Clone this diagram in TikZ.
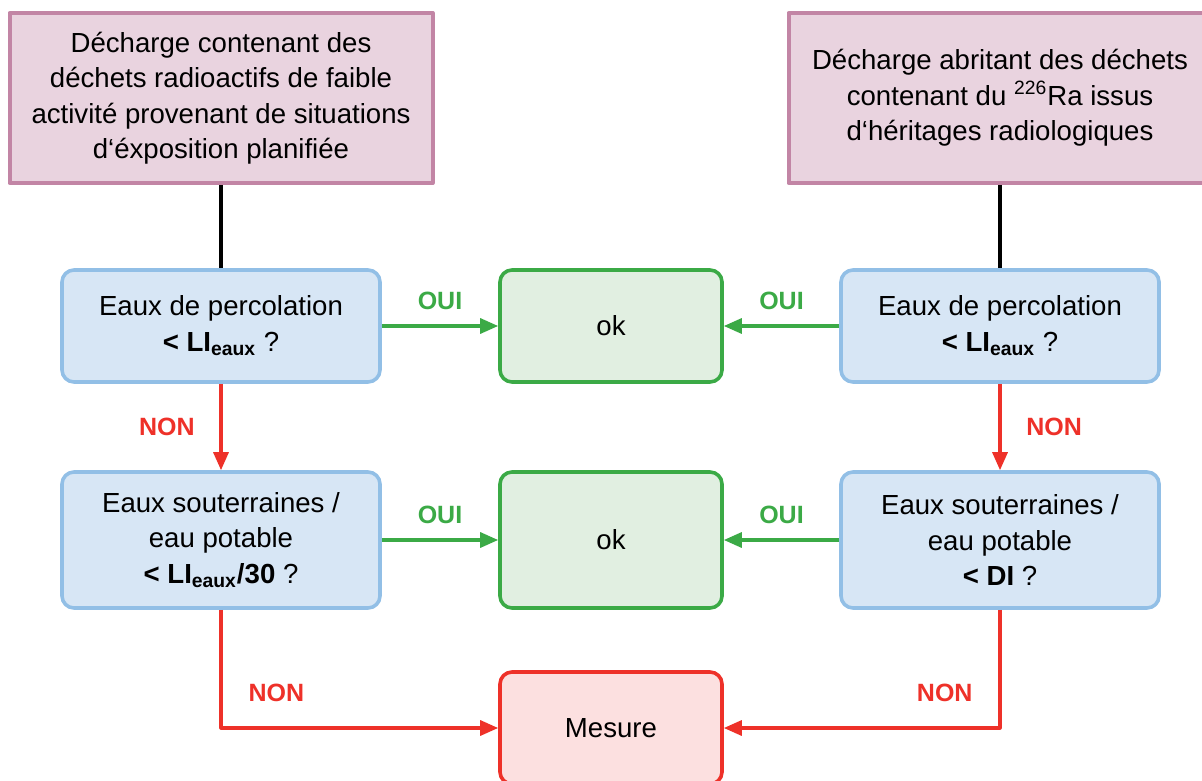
\documentclass[tikz,border=0pt]{standalone}
\usepackage{fontspec}
\setmainfont{Liberation Sans}
\usetikzlibrary{arrows.meta}
\definecolor{srcfill}{HTML}{E9D3DF}
\definecolor{srcline}{HTML}{C285A5}
\definecolor{qfill}{HTML}{D7E6F5}
\definecolor{qline}{HTML}{92BFE6}
\definecolor{okfill}{HTML}{E1EFE1}
\definecolor{okline}{HTML}{3BAA46}
\definecolor{mesfill}{HTML}{FCE0E0}
\definecolor{noline}{HTML}{EE3129}
\begin{document}
\begin{tikzpicture}[x=0.5pt,y=-0.5pt,line join=round,>={Triangle[length=9pt,width=7.5pt]},
	every node/.style={font=\fontsize{13.8}{17.75}\selectfont},
	source/.style={draw=srcline,fill=srcfill,line width=2pt,align=center,minimum width=211.5pt,minimum height=85pt,inner sep=0pt},
	question/.style={draw=qline,fill=qfill,line width=1.8pt,rounded corners=6pt,align=center,minimum width=159pt,minimum height=56pt,inner sep=0pt},
	okbox/.style={draw=okline,fill=okfill,line width=1.8pt,rounded corners=6pt,minimum width=111pt,minimum height=56pt},
	mesbox/.style={draw=noline,fill=mesfill,line width=1.8pt,rounded corners=6pt,minimum width=111pt,minimum height=56pt},
	lien/.style={line width=1.6pt},
	oui/.style={draw=okline,line width=1.6pt,->},
	non/.style={draw=noline,line width=1.6pt,->},
	ouilbl/.style={font=\fontsize{12.5}{14}\selectfont\bfseries,text=okline},
	nonlbl/.style={font=\fontsize{12.5}{14}\selectfont\bfseries,text=noline}]
	\useasboundingbox (0,0) rectangle (1202,780);
	\clip (0,0) rectangle (1202,780);
	% sources
	\node[source] (srcL) at (221,98) {Décharge contenant des\\déchets radioactifs de faible\\activité provenant de situations\\d‘éxposition planifiée};
	\node[source] (srcR) at (1000,98) {Décharge abritant des déchets\\contenant du \textsuperscript{226}Ra issus\\d‘héritages radiologiques};
	% questions
	\node[question] (perL) at (221,326) {Eaux de percolation\\\textbf{< LI\textsubscript{eaux}} ?};
	\node[question] (perR) at (1000,326) {Eaux de percolation\\\textbf{< LI\textsubscript{eaux}} ?};
	\node[question,minimum height=68pt] (souL) at (221,540) {Eaux souterraines /\\eau potable\\\textbf{< LI\textsubscript{eaux}/30} ?};
	\node[question,minimum height=68pt] (souR) at (1000,540) {Eaux souterraines /\\eau potable\\\textbf{< DI} ?};
	% reponses
	\node[okbox] (ok1) at (611,326) {ok};
	\node[okbox,minimum height=68pt] (ok2) at (611,540) {ok};
	\node[mesbox] (mes) at (611,728) {Mesure};
	\draw[lien] (srcL) -- (perL);
	\draw[lien] (srcR) -- (perR);
	\draw[oui] (perL) -- node[ouilbl,above=4pt] {OUI} (ok1);
	\draw[oui] (perR) -- node[ouilbl,above=4pt] {OUI} (ok1);
	\draw[oui] (souL) -- node[ouilbl,above=4pt] {OUI} (ok2);
	\draw[oui] (souR) -- node[ouilbl,above=4pt] {OUI} (ok2);
	\draw[non] (perL) -- node[nonlbl,left=9pt] {NON} (souL);
	\draw[non] (perR) -- node[nonlbl,right=9pt] {NON} (souR);
	\draw[non] (souL) |- node[nonlbl,pos=0.6,above=9pt] {NON} (mes);
	\draw[non] (souR) |- node[nonlbl,pos=0.6,above=9pt] {NON} (mes);
\end{tikzpicture}
\end{document}
